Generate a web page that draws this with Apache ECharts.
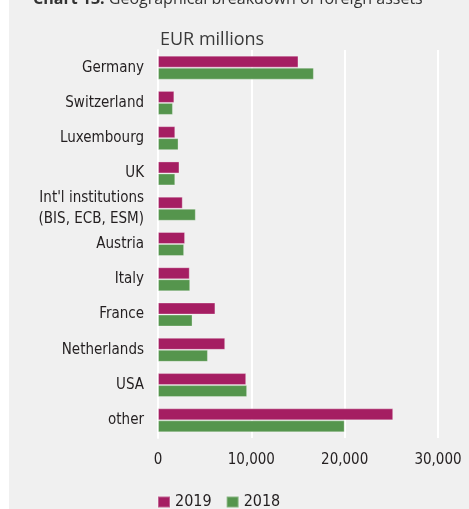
<!DOCTYPE html>
<html>
<head>
<meta charset="utf-8">
<script src="https://cdn.jsdelivr.net/npm/echarts@6/dist/echarts.min.js"></script>
<style>
  html, body { margin: 0; padding: 0; background: #ffffff; }
  #chart { position: absolute; left: 9px; top: 0; width: 460px; height: 509px; }
</style>
</head>
<body>
<div id="chart"></div>
<script>
// Foreign assets by country, EUR millions
const categories = ['Germany', 'Switzerland', 'Luxembourg', 'UK',
  "Int'l institutions\n(BIS, ECB, ESM)", 'Austria', 'Italy', 'France',
  'Netherlands', 'USA', 'other'];
const values2019 = [15050, 1750, 1850, 2300, 2650, 2900, 3400, 6150, 7200, 9450, 25200];
const values2018 = [16700, 1600, 2200, 1850, 4050, 2800, 3450, 3700, 5350, 9550, 20000];
const xTicks = [0, 10000, 20000, 30000];

const NARROW = '"DejaVu Sans Condensed", "Liberation Sans Narrow", sans-serif';
const MAGENTA = '#a51e62';
const GREEN = '#55954d';

const chart = echarts.init(document.getElementById('chart'), null, { renderer: 'canvas' });

chart.setOption({
  backgroundColor: '#f0f0f0',
  animation: false,
  graphic: [
    {
      type: 'text', left: 24, top: -9,
      style: {
        text: '{b|Chart 13:} Geographical breakdown of foreign assets',
        font: '16px "Open Sans", sans-serif',
        fill: '#333333',
        rich: {
          b: { fontFamily: '"Open Sans", sans-serif', fontSize: 16, fontWeight: 'bold', color: '#1f4fa8' }
        }
      }
    },
    {
      type: 'text', left: 151, top: 31,
      style: { text: 'EUR millions', font: '18px "Open Sans", sans-serif', fill: '#3a3a3a' }
    }
  ],
  legend: {
    left: 148, top: 494, padding: 0,
    itemWidth: 12, itemHeight: 11, itemGap: 14,
    icon: 'rect',
    textStyle: { fontFamily: NARROW, fontSize: 16, color: '#231f20' },
    data: ['2019', '2018']
  },
  grid: { left: 149, right: 31, top: 50, height: 388, containLabel: false },
  xAxis: {
    type: 'value', min: xTicks[0], max: xTicks[xTicks.length - 1], interval: 10000,
    axisLine: { show: false },
    axisTick: { show: false },
    splitLine: { show: true, lineStyle: { color: '#ffffff', width: 2 } },
    axisLabel: {
      margin: 15, fontFamily: NARROW, fontSize: 15, color: '#231f20',
      formatter: v => v.toLocaleString('en-US')
    }
  },
  yAxis: {
    type: 'category', data: categories, inverse: true,
    axisLine: { show: true, lineStyle: { color: '#ffffff', width: 2 } },
    axisTick: { show: false },
    axisLabel: { margin: 14, fontFamily: NARROW, fontSize: 15, lineHeight: 21, color: '#231f20' }
  },
  series: [
    {
      name: '2019', type: 'bar', data: values2019, barWidth: 12, barGap: '0%',
      itemStyle: { color: MAGENTA, borderColor: 'rgba(255,255,255,0.3)', borderWidth: 1 }
    },
    {
      name: '2018', type: 'bar', data: values2018, barWidth: 12, barGap: '0%',
      itemStyle: { color: GREEN, borderColor: 'rgba(255,255,255,0.3)', borderWidth: 1 }
    }
  ]
});
</script>
</body>
</html>
